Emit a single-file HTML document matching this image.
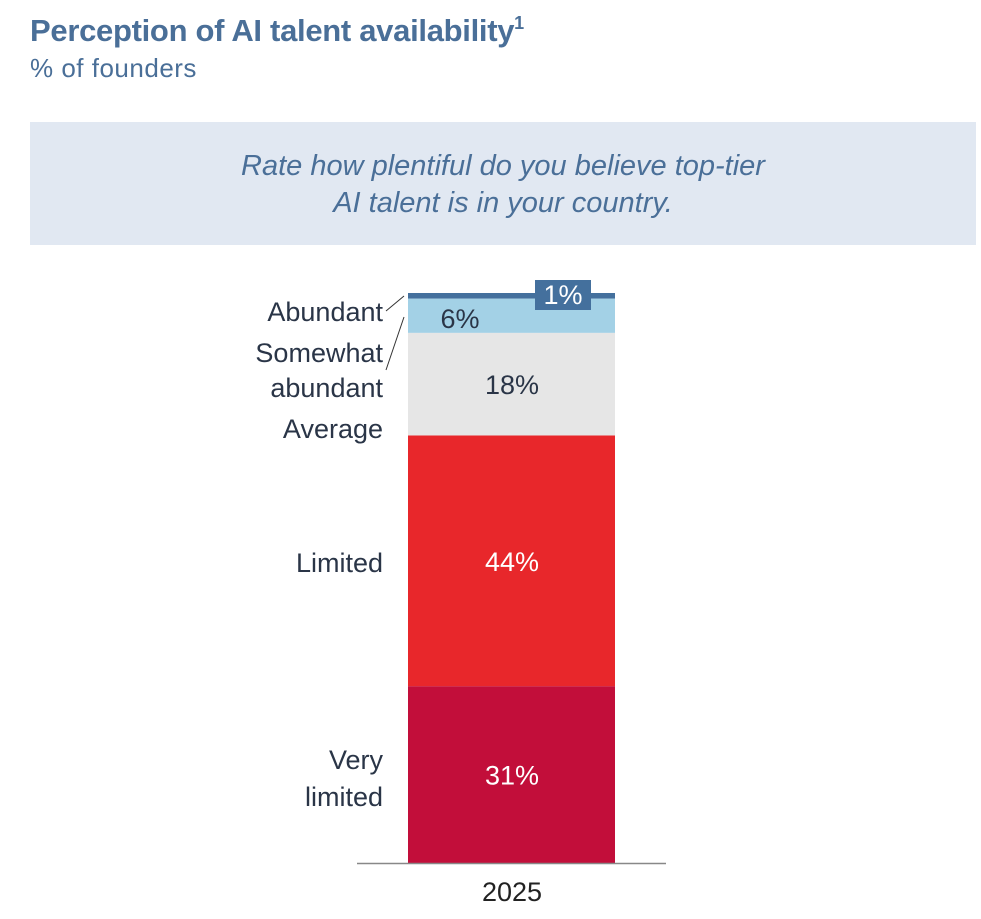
<!DOCTYPE html>
<html><head><meta charset="utf-8"><style>
body{margin:0;background:#fff;width:981px;height:914px;overflow:hidden;font-family:"Liberation Sans",sans-serif}
</style></head><body>
<svg width="981" height="914" viewBox="0 0 981 914" xmlns="http://www.w3.org/2000/svg">
<text x="30" y="41" font-size="31" font-weight="bold" fill="#4a6f98" letter-spacing="-0.3">Perception of AI talent availability<tspan font-size="18" dy="-12">1</tspan></text>
<text x="30" y="77" font-size="26" fill="#4a6f98" letter-spacing="0.5">% of founders</text>
<rect x="30" y="122" width="946" height="123" fill="#e1e8f2"/>
<text x="503" y="175" font-size="29" font-style="italic" fill="#4a6f98" text-anchor="middle">Rate how plentiful do you believe top-tier</text>
<text x="503" y="212" font-size="29" font-style="italic" fill="#4a6f98" text-anchor="middle">AI talent is in your country.</text>
<g id="bars"></g>
<g id="overlay"></g>
<line x1="357" y1="863.5" x2="666" y2="863.5" stroke="#888" stroke-width="1.5"/>
<text x="512" y="901" font-size="27" fill="#222" text-anchor="middle">2025</text>
<line x1="386" y1="311" x2="404" y2="296" stroke="#333" stroke-width="1"/>
<line x1="386" y1="370" x2="404" y2="317" stroke="#333" stroke-width="1"/>
</svg>
<script>
const categories=["Abundant","Somewhat abundant","Average","Limited","Very limited"];
const values=[1,6,18,44,31];
const valueLabels=["1%","6%","18%","44%","31%"];
const colors=["#44709d","#a3d1e6","#e6e6e6","#e8272b","#c20e3a"];
const textColors=["#fff","#2a3547","#2a3547","#fff","#fff"];
const x0=408,w=207,top0=293,bottom=863;
const total=values.reduce((a,b)=>a+b,0);
const y=v=>top0+(bottom-top0)*v/total;
const g=document.getElementById('bars');
const ov=document.getElementById('overlay');
const NS="http://www.w3.org/2000/svg";
let cum=0;
const labelLines=[["Abundant"],["Somewhat","abundant"],["Average"],["Limited"],["Very","limited"]];
const labelY=[[321],[362,397],[438],[572],[769,806]];
values.forEach((v,i)=>{
  const y1=y(cum),y2=y(cum+v);cum+=v;
  const r=document.createElementNS(NS,'rect');
  r.setAttribute('x',x0);r.setAttribute('y',y1);r.setAttribute('width',w);r.setAttribute('height',y2-y1);r.setAttribute('fill',colors[i]);
  
  
  g.appendChild(r);
  let tx=512,ty=(y1+y2)/2+10;
  if(i===0){
    const b=document.createElementNS(NS,'rect');
    b.setAttribute('x',535);b.setAttribute('y',280);b.setAttribute('width',56);b.setAttribute('height',30);b.setAttribute('fill',colors[0]);
    
    
    ov.appendChild(b);tx=563;ty=304;
  }
  if(i===1){tx=460;ty=(y1+y2)/2+12;}
  const t=document.createElementNS(NS,'text');
  t.setAttribute('x',tx);t.setAttribute('y',ty);t.setAttribute('font-size','27');t.setAttribute('fill',textColors[i]);t.setAttribute('text-anchor','middle');
  t.textContent=valueLabels[i];
  
  
  ov.appendChild(t);
  labelLines[i].forEach((s,j)=>{
    const c=document.createElementNS(NS,'text');
    c.setAttribute('x',383);c.setAttribute('y',labelY[i][j]);c.setAttribute('font-size','27');c.setAttribute('fill','#2a3547');c.setAttribute('text-anchor','end');
    c.textContent=s;
    
    
    ov.appendChild(c);
  });
});
</script>
</body></html>
